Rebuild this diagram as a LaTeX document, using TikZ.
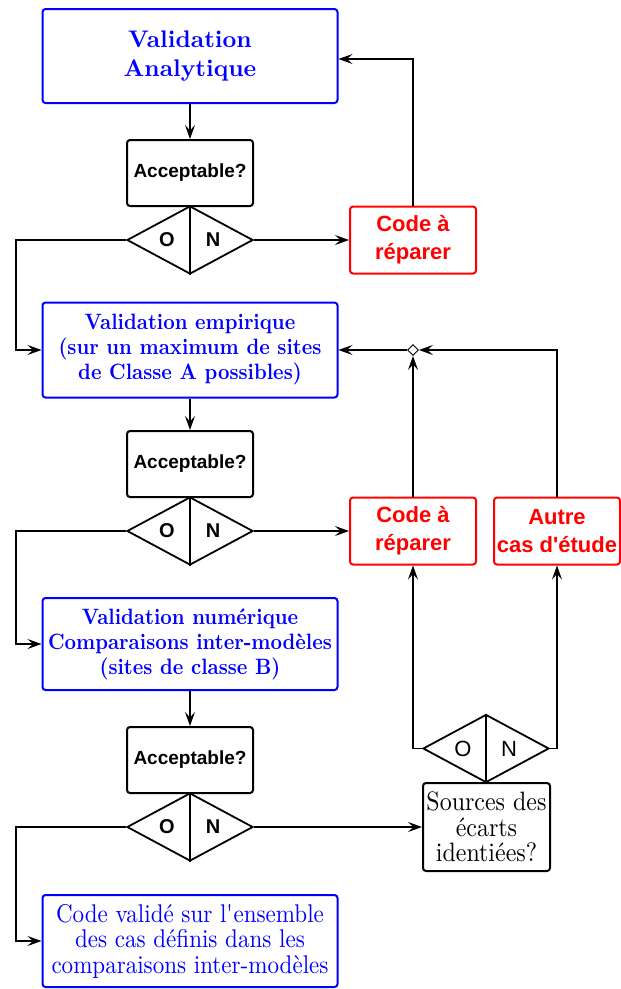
\documentclass[tikz,border=0pt]{standalone}
\usepackage{fontspec}
\newfontfamily\arialf{Liberation Sans}
\newfontfamily\lmten{lmroman10-regular.otf}[BoldFont=lmroman10-bold.otf]
\newfontfamily\lmtall{lmroman10-regular.otf}[BoldFont=lmroman10-bold.otf, FakeStretch=0.9]
\usetikzlibrary{shapes.geometric,arrows.meta}
\begin{document}
\begin{tikzpicture}[x=1pt,y=-1pt,
  bluebox/.style={draw=blue, text=blue, line width=2pt, rounded corners=3pt,
     minimum width=295pt, inner sep=0pt, align=center},
  accbox/.style={draw=black, line width=2pt, rounded corners=3pt,
     minimum width=126pt, minimum height=66pt, inner sep=0pt, align=center,
     font=\arialf\bfseries\fontsize{19}{23}\selectfont},
  redbox/.style={draw=red, text=red, line width=2pt, rounded corners=3pt,
     minimum width=126pt, minimum height=67pt, inner sep=0pt, align=center,
     font=\arialf\bfseries\fontsize{22}{28}\selectfont},
  dia/.style={draw=black, diamond, line width=1.8pt, minimum width=126pt,
     minimum height=68pt, inner sep=0pt, aspect=1.85},
  onlab/.style={inner sep=0pt, font=\arialf\bfseries\fontsize{20}{24}\selectfont},
  onlabr/.style={inner sep=0pt, font=\arialf\fontsize{22}{26}\selectfont},
  arr/.style={line width=1.7pt, -{Stealth[length=14pt,width=10pt,inset=5.5pt]}},
  ln/.style={line width=1.8pt}
]
\useasboundingbox (0,0) rectangle (621,989);

% left column
\node[bluebox, minimum height=94pt, font=\lmten\bfseries\fontsize{24}{29}\selectfont] (b1) at (190,56) {Validation\\Analytique};
\node[accbox] (a1) at (190,173) {Acceptable?};
\node[dia] (d1) at (190,240) {};
\draw[ln] (d1.north) -- (d1.south);
\path (d1.center) ++(-23,0) node[onlab] (o1) {O};
\path (d1.center) ++(23,0) node[onlab] (n1) {N};

\node[bluebox, minimum height=95pt, font=\lmtall\bfseries\fontsize{22.2}{25}\selectfont] (b2) at (190,350) {Validation empirique\\(sur un maximum de sites\\de Classe A possibles)};
\node[accbox] (a2) at (190,464) {Acceptable?};
\node[dia] (d2) at (190,531) {};
\draw[ln] (d2.north) -- (d2.south);
\path (d2.center) ++(-23,0) node[onlab] (o2) {O};
\path (d2.center) ++(23,0) node[onlab] (n2) {N};

\node[bluebox, minimum height=92pt, font=\lmtall\bfseries\fontsize{22.2}{25}\selectfont] (b3) at (190,644) {Validation numérique\\Comparaisons inter-modèles\\(sites de classe B)};
\node[accbox] (a3) at (190,760) {Acceptable?};
\node[dia] (d3) at (190,827) {};
\draw[ln] (d3.north) -- (d3.south);
\path (d3.center) ++(-23,0) node[onlab] (o3) {O};
\path (d3.center) ++(23,0) node[onlab] (n3) {N};

\node[bluebox, minimum height=92pt, font=\lmtall\fontsize{25.6}{25.5}\selectfont] (b4) at (190,941) {Code validé sur l\textquotesingle ensemble\\des cas définis dans les\\comparaisons inter-modèles};

% right column
\node[redbox] (c1) at (413,240) {Code à\\réparer};
\node[redbox] (c2) at (413,531) {Code à\\réparer};
\node[redbox] (au) at (557,531) {Autre\\cas d\textquotesingle étude};
\node[draw=black, fill=white, diamond, line width=0.9pt, minimum width=11pt, minimum height=11pt, inner sep=0pt] (j) at (413,350) {};

\node[draw=black, line width=2pt, rounded corners=3pt, minimum width=127pt, minimum height=88pt, inner sep=0pt, align=center, font=\lmtall\fontsize{26.6}{25.5}\selectfont] (src) at (486.5,827) {Sources des\\écarts\\identiées?};
\node[dia] (d4) at (486,748.5) {};
\draw[ln] (d4.north) -- (d4.south);
\path (d4.center) ++(-23,0) node[onlabr] (o4) {O};
\path (d4.center) ++(23,0) node[onlabr] (n4) {N};

% connectors
\draw[arr] (b1.south) -- (a1.north);
\draw[arr] (b2.south) -- (a2.north);
\draw[arr] (b3.south) -- (a3.north);

\draw[arr] (d1.west) -- ++(-110,0) |- (b2.west);
\draw[arr] (d2.west) -- ++(-110,0) |- (b3.west);
\draw[arr] (d3.west) -- ++(-110,0) |- (b4.west);

\draw[arr] (d1.east) -- (c1.west);
\draw[arr] (d2.east) -- (c2.west);
\draw[arr] (d3.east) -- (src.west);

\draw[arr] (c1.north) |- ([yshift=-3pt]b1.east);

\draw[arr] (c2.north) -- (j.south);
\draw[arr] (au.north) |- (j.east);
\draw[arr] (j.west) -- (b2.east);

\draw[arr] (d4.west) -| (c2.south);
\draw[arr] (d4.east) -| (au.south);
\end{tikzpicture}
\end{document}
